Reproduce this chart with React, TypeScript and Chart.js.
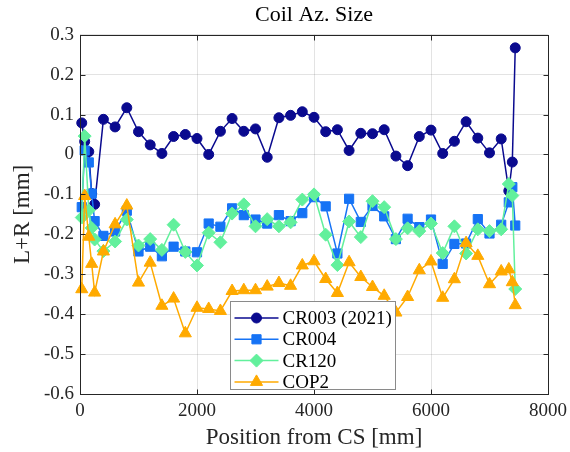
import React, { useEffect, useRef } from "react";
import { Chart, registerables } from "chart.js";

Chart.register(...registerables);

const chartTitle = "Coil Az. Size";
const xTitle = "Position from CS [mm]";
const yTitle = "L+R [mm]";

const positions = [
  30, 80, 150, 200, 250, 400, 600, 800, 1000, 1200, 1400, 1600, 1800, 2000, 2200,
  2400, 2600, 2800, 3000, 3200, 3400, 3600, 3800, 4000, 4200, 4400, 4600, 4800,
  5000, 5200, 5400, 5600, 5800, 6000, 6200, 6400, 6600, 6800, 7000, 7200, 7330,
  7390, 7440,
];

const cr003 = [
  0.079, 0.0325, 0.007, -0.098, -0.125, 0.088, 0.069, 0.117, 0.057, 0.024, 0.0025,
  0.045, 0.05, 0.04, 0.0, 0.058, 0.09, 0.058, 0.064, -0.007, 0.092, 0.098, 0.107,
  0.093, 0.057, 0.062, 0.01, 0.053, 0.052, 0.062, -0.004, -0.028, 0.045, 0.061,
  0.0025, 0.033, 0.082, 0.041, 0.004, 0.039, -0.091, -0.019, 0.267,
];

const cr004 = [
  -0.132, 0.01, -0.02, -0.098, -0.167, -0.204, -0.193, -0.141, -0.243, -0.231,
  -0.255, -0.231, -0.243, -0.245, -0.173, -0.181, -0.135, -0.152, -0.163, -0.173,
  -0.152, -0.167, -0.147, -0.107, -0.13, -0.248, -0.111, -0.169, -0.129, -0.155,
  -0.212, -0.161, -0.182, -0.163, -0.274, -0.224, -0.223, -0.162, -0.198, -0.176,
  -0.12, -0.082, -0.178,
];

const cr120 = [
  -0.158, 0.046, -0.14, -0.184, -0.213, -0.242, -0.218, -0.163, -0.228, -0.212,
  -0.239, -0.176, -0.244, -0.278, -0.196, -0.22, -0.148, -0.125, -0.18, -0.162,
  -0.18, -0.17, -0.113, -0.1, -0.201, -0.277, -0.168, -0.207, -0.117, -0.132,
  -0.212, -0.185, -0.192, -0.173, -0.247, -0.18, -0.248, -0.1875, -0.192, -0.1875,
  -0.074, -0.103, -0.337,
];

const cop2 = [
  -0.3375, -0.104, -0.206, -0.274, -0.346, -0.243, -0.175, -0.128, -0.321, -0.271,
  -0.379, -0.361, -0.448, -0.384, -0.387, -0.392, -0.342, -0.34, -0.34, -0.331,
  -0.322, -0.329, -0.278, -0.2675, -0.312, -0.347, -0.27, -0.307, -0.332, -0.354,
  -0.396, -0.357, -0.29, -0.268, -0.359, -0.3125, -0.222, -0.254, -0.325, -0.293,
  -0.288, -0.32, -0.3775,
];

const xTicks = [0, 2000, 4000, 6000, 8000];
const yTicks = [0.3, 0.2, 0.1, 0, -0.1, -0.2, -0.3, -0.4, -0.5, -0.6];

const seriesNames = ["CR003 (2021)", "CR004", "CR120", "COP2"];
const seriesValues = [cr003, cr004, cr120, cop2];
const seriesColors = ["#0a0a8f", "#1673f5", "#62f09c", "#ffaa00"];
const seriesShapes = ["circle", "rect", "rectRot", "triangle"];
const seriesRadius = [5, 6.5, 6.5, 7];

const FONT = "'Liberation Serif', 'DejaVu Serif', serif";
const AXIS_COLOR = "#262626";

function drawMarker(ctx: CanvasRenderingContext2D, shape: string, x: number, y: number, r: number) {
  ctx.beginPath();
  if (shape === "circle") {
    ctx.arc(x, y, r, 0, Math.PI * 2);
  } else if (shape === "rect") {
    const s = r / Math.SQRT2;
    ctx.rect(x - s, y - s, 2 * s, 2 * s);
  } else if (shape === "rectRot") {
    ctx.moveTo(x, y - r);
    ctx.lineTo(x + r, y);
    ctx.lineTo(x, y + r);
    ctx.lineTo(x - r, y);
    ctx.closePath();
  } else {
    const h = r * 1.5;
    const w = r * Math.sqrt(3) / 2;
    ctx.moveTo(x, y - r);
    ctx.lineTo(x + w, y - r + h);
    ctx.lineTo(x - w, y - r + h);
    ctx.closePath();
  }
  ctx.fill();
  ctx.stroke();
}

const framePlugin = {
  id: "matlabFrame",
  afterDatasetsDraw(chart: any) {
    const { ctx, chartArea: a, scales } = chart;
    ctx.save();
    ctx.strokeStyle = AXIS_COLOR;
    ctx.lineWidth = 1;
    const L = Math.round(a.left) + 0.5;
    const R = Math.round(a.right) + 0.5;
    const T = Math.round(a.top) + 0.5;
    const B = Math.round(a.bottom) + 0.5;
    ctx.strokeRect(L, T, R - L, B - T);
    const tl = 5;
    ctx.beginPath();
    for (const v of xTicks) {
      const x = Math.round(scales.x.getPixelForValue(v)) + 0.5;
      ctx.moveTo(x, B);
      ctx.lineTo(x, B - tl);
      ctx.moveTo(x, T);
      ctx.lineTo(x, T + tl);
    }
    for (const v of yTicks) {
      const y = Math.round(scales.y.getPixelForValue(v)) + 0.5;
      ctx.moveTo(L, y);
      ctx.lineTo(L + tl, y);
      ctx.moveTo(R, y);
      ctx.lineTo(R - tl, y);
    }
    ctx.stroke();

    ctx.fillStyle = "#000";
    ctx.font = `22px ${FONT}`;
    ctx.textAlign = "center";
    ctx.textBaseline = "middle";
    ctx.fillText(chartTitle, (a.left + a.right) / 2, 15);
    ctx.restore();
  },
  afterDraw(chart: any) {
    const { ctx, chartArea: a } = chart;
    ctx.save();
    const bx = 230.5;
    const by = Math.round(a.top + 266) + 0.5;
    const bw = 165;
    const bh = 88;
    ctx.fillStyle = "#ffffff";
    ctx.fillRect(bx, by, bw, bh);
    ctx.strokeStyle = "#8a8a8a";
    ctx.lineWidth = 1;
    ctx.strokeRect(bx, by, bw, bh);
    ctx.font = `19px ${FONT}`;
    ctx.textAlign = "left";
    ctx.textBaseline = "middle";
    for (let i = 0; i < seriesNames.length; i++) {
      const y = by + 16.5 + i * 21.3;
      ctx.strokeStyle = seriesColors[i];
      ctx.fillStyle = seriesColors[i];
      ctx.lineWidth = 1.5;
      ctx.beginPath();
      ctx.moveTo(bx + 4, y);
      ctx.lineTo(bx + 48, y);
      ctx.stroke();
      ctx.lineWidth = 1;
      drawMarker(ctx, seriesShapes[i], bx + 26, y, seriesRadius[i]);
      ctx.fillStyle = "#000";
      ctx.fillText(seriesNames[i], bx + 52, y + 1);
    }
    ctx.restore();
  },
};

export default function App() {
  const canvasRef = useRef<HTMLCanvasElement | null>(null);

  useEffect(() => {
    document.body.style.margin = "0";
    const canvas = canvasRef.current;
    if (!canvas) return;

    const datasets = seriesNames.map((name, i) => ({
      label: name,
      data: positions.map((p, j) => ({ x: p, y: seriesValues[i][j] })),
      borderColor: seriesColors[i],
      backgroundColor: seriesColors[i],
      pointBackgroundColor: seriesColors[i],
      pointBorderColor: seriesColors[i],
      pointStyle: seriesShapes[i],
      pointRadius: seriesRadius[i],
      pointBorderWidth: 1,
      borderWidth: 1.5,
      tension: 0,
      fill: false,
      clip: 10,
      order: seriesNames.length - i,
    }));

    const chart = new Chart(canvas, {
      type: "line",
      data: { datasets },
      plugins: [framePlugin],
      options: {
        animation: false,
        responsive: false,
        devicePixelRatio: 1,
        layout: { padding: { left: 0, right: 22, top: 34.7, bottom: 0 } },
        plugins: {
          legend: { display: false },
          title: { display: false },
          tooltip: { enabled: false },
        },
        scales: {
          x: {
            type: "linear",
            min: 0,
            max: 8000,
            afterBuildTicks: (scale: any) => {
              scale.ticks = xTicks.map((v) => ({ value: v }));
            },
            afterFit: (scale: any) => {
              scale.height = 58;
              scale.paddingLeft = 0;
              scale.paddingRight = 0;
            },
            ticks: {
              color: AXIS_COLOR,
              font: { family: FONT, size: 19 },
              padding: 6,
              maxRotation: 0,
              autoSkip: false,
              callback: (v: any) => String(v),
            },
            grid: { color: "rgba(38,38,38,0.13)", drawTicks: false },
            border: { display: false },
            title: {
              display: true,
              text: xTitle,
              color: AXIS_COLOR,
              font: { family: FONT, size: 23 },
              padding: { top: 0, bottom: 0 },
            },
          },
          y: {
            type: "linear",
            min: -0.6,
            max: 0.3,
            afterBuildTicks: (scale: any) => {
              scale.ticks = yTicks.map((v) => ({ value: v }));
            },
            afterFit: (scale: any) => {
              scale.width = 80;
              scale.paddingTop = 0;
              scale.paddingBottom = 0;
            },
            ticks: {
              color: AXIS_COLOR,
              font: { family: FONT, size: 19 },
              padding: 6,
              autoSkip: false,
              callback: (v: any) => {
                const r = Math.round(Number(v) * 10) / 10;
                return r === 0 ? "0" : String(r);
              },
            },
            grid: { color: "rgba(38,38,38,0.13)", drawTicks: false },
            border: { display: false },
            title: {
              display: true,
              text: yTitle,
              color: AXIS_COLOR,
              font: { family: FONT, size: 23 },
              padding: { top: 9, bottom: 0 },
            },
          },
        },
      },
    });

    return () => {
      chart.destroy();
    };
  }, []);

  return (
    <div style={{ position: "fixed", left: 0, top: 0, width: 570, height: 452 }}>
      <canvas ref={canvasRef} width={570} height={452} style={{ width: 570, height: 452 }} />
    </div>
  );
}
